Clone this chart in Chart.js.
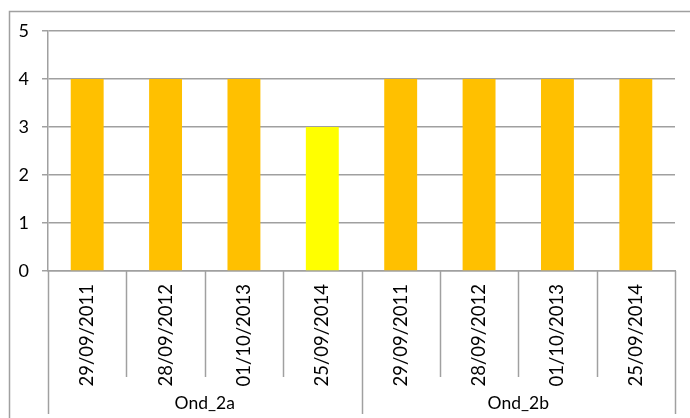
<!DOCTYPE html>
<html>
<head>
<meta charset="utf-8">
<script src="https://cdn.jsdelivr.net/npm/chart.js@4/dist/chart.umd.min.js"></script>
<style>
  html, body { margin: 0; padding: 0; background: #fff; }
  #wrap { position: relative; width: 690px; height: 418px; }
</style>
</head>
<body>
<div id="wrap"><canvas id="chart"></canvas></div>
<script>
const DATES = ['29/09/2011', '28/09/2012', '01/10/2013', '25/09/2014',
               '29/09/2011', '28/09/2012', '01/10/2013', '25/09/2014'];
const VALUES = [4, 4, 4, 3, 4, 4, 4, 4];
const GROUPS = ['Ond_2a', 'Ond_2b'];
const GROUP_SIZES = [4, 4];

const ORANGE = '#FFC000';
const YELLOW = '#FFFF00';
const LINE = '#A0A0A0';
const FONT = 'Lato, "Open Sans", sans-serif';

// value 3 is shown in yellow, everything else orange
const barColors = VALUES.map(v => v < 4 ? YELLOW : ORANGE);

// outer frame, category separators and the second row of group labels
const multiLevelAxis = {
    id: 'multiLevelAxis',
    afterDraw(chart) {
        const ctx = chart.ctx;
        const x = chart.scales.x;
        const area = chart.chartArea;
        const half = (x.getPixelForValue(1) - x.getPixelForValue(0)) / 2;
        const rowEnd = area.bottom + 106;
        const groupEnd = area.bottom + 143;

        ctx.save();
        ctx.strokeStyle = LINE;
        ctx.lineWidth = 1.5;

        // frame around the whole chart
        ctx.beginPath();
        ctx.moveTo(9.5, chart.height + 2);
        ctx.lineTo(9.5, 11.5);
        ctx.lineTo(chart.width + 2, 11.5);
        ctx.stroke();

        // separators between dates, longer ones between groups
        const boundaries = [0];
        GROUP_SIZES.reduce((acc, n) => { boundaries.push(acc + n); return acc + n; }, 0);
        for (let i = 0; i <= DATES.length; i++) {
            const px = Math.round(x.getPixelForValue(i) - half) + 0.5;
            const end = boundaries.includes(i) ? groupEnd : rowEnd;
            ctx.beginPath();
            ctx.moveTo(px, area.bottom);
            ctx.lineTo(px, end);
            ctx.stroke();
        }

        ctx.fillStyle = '#000';
        ctx.font = '17.5px ' + FONT;
        ctx.textAlign = 'center';
        ctx.textBaseline = 'middle';
        let start = 0;
        GROUPS.forEach((g, gi) => {
            const left = x.getPixelForValue(start) - half;
            const right = x.getPixelForValue(start + GROUP_SIZES[gi] - 1) + half;
            ctx.fillText(g, (left + right) / 2, area.bottom + 132);
            start += GROUP_SIZES[gi];
        });
        ctx.restore();
    }
};

new Chart(document.getElementById('chart'), {
    type: 'bar',
    data: {
        labels: DATES,
        datasets: [{
            data: VALUES,
            backgroundColor: barColors,
            borderWidth: 0,
            categoryPercentage: 1,
            barPercentage: 0.42
        }]
    },
    options: {
        responsive: true,
        maintainAspectRatio: false,
        animation: false,
        layout: { padding: { top: 31, right: 15, bottom: 0, left: 0 } },
        plugins: {
            legend: { display: false },
            tooltip: { enabled: false }
        },
        scales: {
            y: {
                min: 0,
                max: 5,
                afterFit: s => { s.width = 48; },
                ticks: {
                    stepSize: 1,
                    color: '#000',
                    padding: 13,
                    font: { family: FONT, size: 18 }
                },
                grid: { color: LINE, lineWidth: 1.5, tickLength: 6 },
                border: { color: LINE, width: 1.5 }
            },
            x: {
                afterFit: s => { s.height = 147; },
                grid: { display: false, drawTicks: false },
                border: { color: LINE, width: 1.5 },
                ticks: {
                    minRotation: 90,
                    maxRotation: 90,
                    autoSkip: false,
                    padding: 13,
                    color: '#000',
                    font: { family: FONT, size: 18.5 }
                }
            }
        }
    },
    plugins: [multiLevelAxis]
});
</script>
</body>
</html>
